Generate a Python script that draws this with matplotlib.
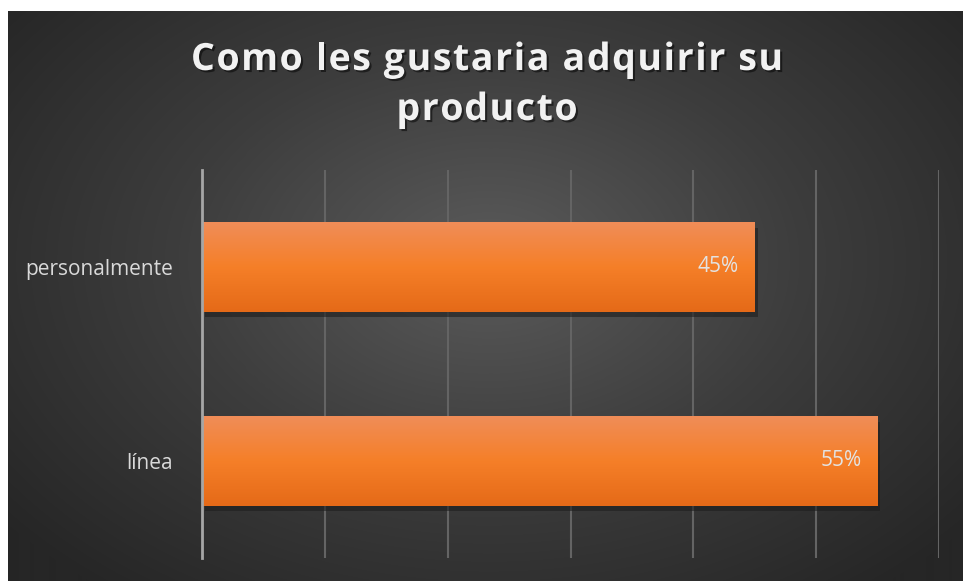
import numpy as np
import matplotlib
matplotlib.use("Agg")
import matplotlib.pyplot as plt
import matplotlib.patheffects as pe
from matplotlib.colors import LinearSegmentedColormap

plt.rcParams['font.family'] = ['Open Sans', 'DejaVu Sans']

# data
categories = ['línea', 'personalmente']
values = [0.55, 0.45]
value_labels = ['55%', '45%']
title_lines = ['Como les gustaria adquirir su', 'producto']

W, H = 963, 581
fig = plt.figure(figsize=(W / 100, H / 100), dpi=100)
fig.patch.set_facecolor('white')

# dark radial background
bg = fig.add_axes([8 / W, 0, 955 / W, 570 / H])
bg.set_axis_off()
yy, xx = np.mgrid[0:570, 0:955]
r = np.sqrt(((xx - 480) / 620) ** 2 + ((yy - 250) / 420) ** 2)
r = np.clip(r, 0, 1)
bg_cmap = LinearSegmentedColormap.from_list('bg', ['#5b5b5b', '#3d3d3d', '#262626'])
bg.imshow(r, cmap=bg_cmap, aspect='auto', extent=[0, 1, 0, 1], vmin=0, vmax=1)
bg.set_xlim(0, 1)
bg.set_ylim(0, 1)

# main axes
ax = fig.add_axes([202 / W, 1 - 558 / H, (939 - 202) / W, (558 - 170) / H])
ax.patch.set_alpha(0)

ax.set_xticks(np.arange(0, 0.61, 0.1))
ax.xaxis.grid(True, color='#646464', linewidth=1.5)
ax.set_axisbelow(True)
ax.tick_params(axis='x', length=0, labelbottom=False)
ax.tick_params(axis='y', length=0, pad=21, labelsize=15, labelcolor='#d9d9d9')
for s in ['top', 'right', 'bottom']:
    ax.spines[s].set_visible(False)
ax.spines['left'].set_color('#a6a6a6')
ax.spines['left'].set_linewidth(2)
ax.spines['left'].set_zorder(5)

ypos = np.arange(len(categories))
bars = ax.barh(ypos, values, height=0.46, color='#f47f2a', zorder=3,
               path_effects=[pe.SimplePatchShadow(offset=(2, -4), shadow_rgbFace='#1e1e1e', alpha=0.6),
                             pe.Normal()])
ax.set_yticks(ypos)
ax.set_yticklabels(categories)

# vertical gradient inside each bar (light at top)
grad = np.linspace(0, 1, 100).reshape(-1, 1)
bar_cmap = LinearSegmentedColormap.from_list('bar', ['#f08d58', '#f57f28', '#e56a18'])
for b in bars:
    x0, y0 = b.get_x(), b.get_y()
    im = ax.imshow(grad, cmap=bar_cmap, aspect='auto', zorder=4,
                   extent=[x0, x0 + b.get_width(), y0, y0 + b.get_height()])
    im.set_clip_path(b)

for b, lab in zip(bars, value_labels):
    ax.text(b.get_width() - 0.013, b.get_y() + b.get_height() / 2, lab,
            ha='right', va='center', fontsize=15, color='#e3e3e3', zorder=6)

ax.set_xlim(0, 0.6)
ax.set_ylim(-0.5, 1.5)

# title with letter spacing, drawn char by char
renderer = fig.canvas.get_renderer()
shadow = [pe.withSimplePatchShadow(offset=(1.5, -1.5), shadow_rgbFace='black', alpha=0.5)]
tkw = dict(fontsize=27, fontweight='bold', color='#f2f2f2', va='center', ha='left',
           path_effects=shadow)
spacing = 1.6
cx = 487
for line, cy in zip(title_lines, [60, 110]):
    probe = fig.text(0, 0, line, **tkw)
    full_w = probe.get_window_extent(renderer).width
    probe.remove()
    total = full_w + spacing * (len(line) - 1)
    x_start = cx - total / 2
    for i, ch in enumerate(line):
        if ch == ' ':
            continue
        if i > 0:
            p = fig.text(0, 0, line[:i], **tkw)
            off = p.get_window_extent(renderer).width
            p.remove()
        else:
            off = 0
        fig.text((x_start + off + spacing * i) / W, 1 - cy / H, ch, **tkw)

fig.savefig('out.png', dpi=100, facecolor='white')
